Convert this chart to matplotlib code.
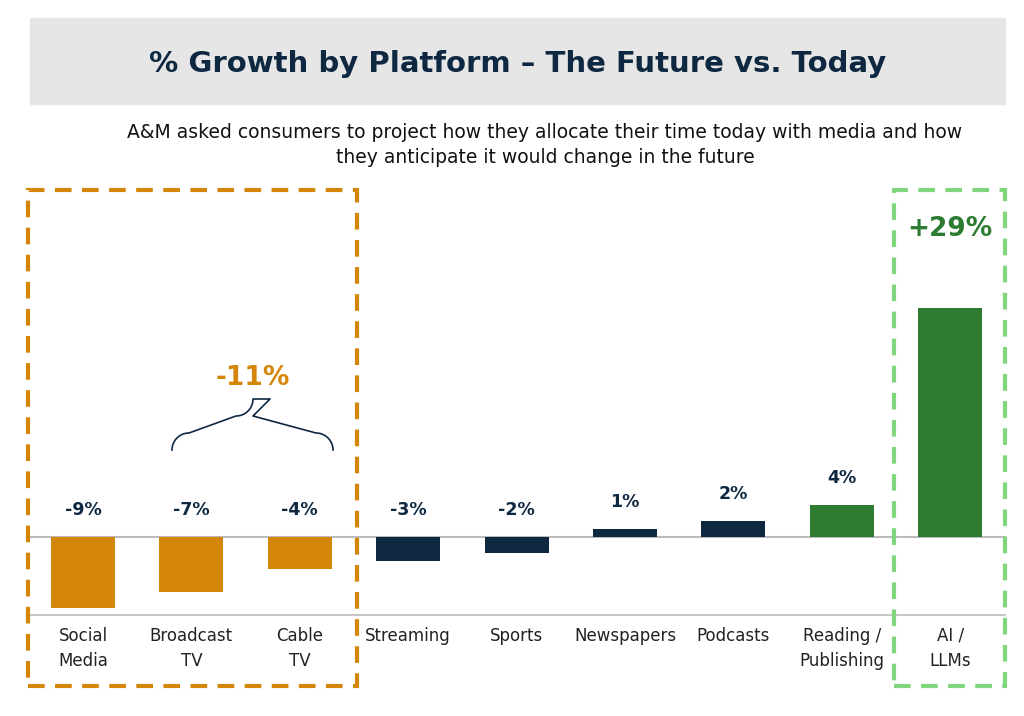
import matplotlib.pyplot as plt
from matplotlib.patches import Rectangle
import numpy as np

platforms = ["Social\nMedia", "Broadcast\nTV", "Cable\nTV", "Streaming", "Sports",
             "Newspapers", "Podcasts", "Reading /\nPublishing", "AI /\nLLMs"]
growth = [-9, -7, -4, -3, -2, 1, 2, 4, 29]
labels = ["-9%", "-7%", "-4%", "-3%", "-2%", "1%", "2%", "4%"]

ORANGE = "#D4860B"
NAVY = "#0E2841"
GREEN = "#2E7B32"
colors = [ORANGE] * 3 + [NAVY] * 4 + [GREEN] * 2

# pixel -> data helpers (axes fills whole figure)
def px(x):
    return (x - 83) / 108.4

def py(y):
    return (537 - y) / 7.9

fig = plt.figure(figsize=(10.24, 7.16), dpi=100)
ax = fig.add_axes([0, 0, 1, 1])
ax.set_xlim(px(0), px(1024))
ax.set_ylim(py(716), py(0))
ax.axis("off")

x = np.arange(len(growth))
ax.bar(x, growth, width=0.59, color=colors, zorder=3)
ax.axhline(0, xmin=30/1024, xmax=1005/1024, color="#BBBBBB", lw=1.5, zorder=2)
ax.axhline(py(615), xmin=30/1024, xmax=1005/1024, color="#BBBBBB", lw=1.2, zorder=2)

for i, (v, t) in enumerate(zip(growth[:-1], labels)):
    yy = (2.3 if v < 0 else v + 2.3) + (0 if v < 0 else 0)
    ax.text(i, yy, t, ha="center", va="bottom", fontsize=12.5, fontweight="bold", color=NAVY)
ax.text(px(950), py(229), "+29%", ha="center", va="center", fontsize=19,
        fontweight="bold", color=GREEN)

for i, name in enumerate(platforms):
    ax.text(i, py(627), name, ha="center", va="top", fontsize=12, color="#222222",
            linespacing=1.5)

# title band
ax.add_patch(Rectangle((px(30), py(104)), px(1005) - px(30), py(18) - py(104),
                       color="#E6E6E6", zorder=1))
ax.text(px(518), py(64), "% Growth by Platform \u2013 The Future vs. Today", ha="center",
        va="center", fontsize=21, fontweight="bold", color=NAVY)
ax.text(px(545), py(145), "A&M asked consumers to project how they allocate their time today with media and how\n"
        "they anticipate it would change in the future", ha="center", va="center",
        fontsize=13.5, color="#111111", linespacing=1.45)

# dashed boxes
ax.add_patch(Rectangle((px(28), py(686)), px(357) - px(28), py(190) - py(686),
                       fill=False, ec=ORANGE, lw=3, ls=(0, (4, 2.5)), zorder=4))
ax.add_patch(Rectangle((px(894), py(686)), px(1005) - px(894), py(190) - py(686),
                       fill=False, ec="#7FD67C", lw=3, ls=(0, (4, 2.5)), zorder=4))

# brace
t = np.linspace(0, np.pi / 2, 30)
r = 17
bx = []
by = []
# left end curve up
bx += list(172 + r - r * np.cos(t)); by += list(450 - r * np.sin(t))
bx += list(253 - r + r * np.sin(t)); by += list(433 - r + r * np.cos(t) - r)
bx += list(253 + r - r * np.cos(t[::-1])); by += list(433 - r + r * np.cos(t[::-1]) - r)
bx += list(333 - r + r * np.cos(t[::-1])); by += list(450 - r * np.sin(t[::-1]))
ax.plot([px(v) for v in bx], [py(v) for v in by], color="#0E2841", lw=1.2)
ax.text(px(253), py(378), "-11%", ha="center", va="center", fontsize=19,
        fontweight="bold", color=ORANGE)

fig.savefig("out.png", dpi=100)
